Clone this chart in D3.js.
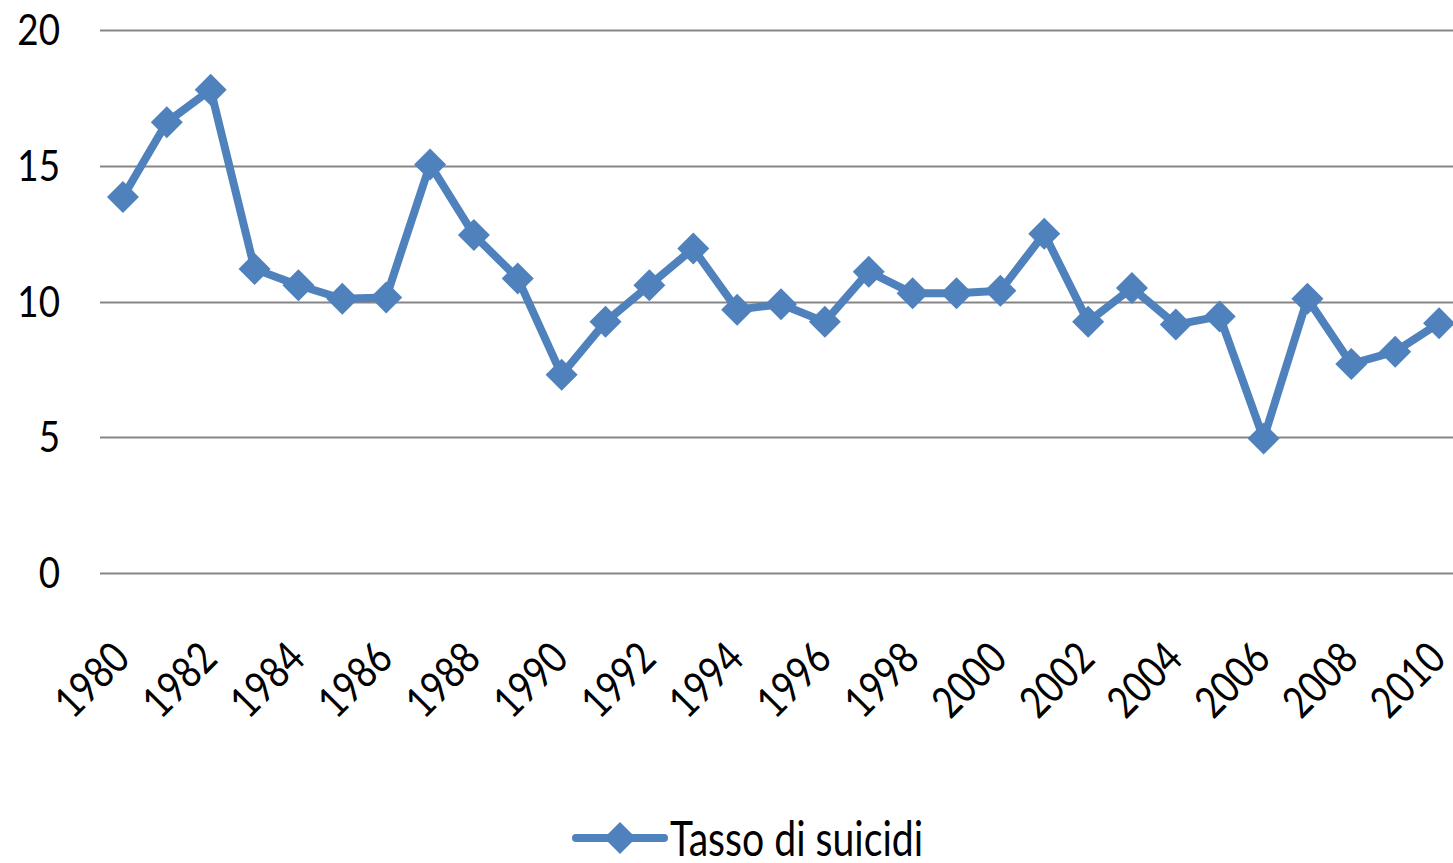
<!DOCTYPE html>
<html><head><meta charset="utf-8">
<script src="https://cdn.jsdelivr.net/npm/d3@7"></script>
<style>
html,body{margin:0;padding:0;background:#fff;overflow:hidden}
text{font-family:Lato,"Open Sans",sans-serif;fill:#000}
</style></head>
<body>
<svg id="chart" width="1453" height="863"></svg>
<script>
const years = [1980,1981,1982,1983,1984,1985,1986,1987,1988,1989,1990,1991,1992,1993,1994,1995,1996,1997,1998,1999,2000,2001,2002,2003,2004,2005,2006,2007,2008,2009,2010];
const values = [13.85,16.6,17.8,11.2,10.6,10.1,10.15,15.05,12.45,10.85,7.3,9.25,10.6,11.95,9.7,9.9,9.25,11.1,10.3,10.3,10.4,12.5,9.25,10.5,9.15,9.45,4.95,10.1,7.7,8.15,9.2];
const yTicks = [0,5,10,15,20];
const xTickLabels = years.filter((d,i)=>i%2===0);
const seriesName = "Tasso di suicidi";

(function(){
const svg = d3.select("#chart");
const pLeft = 101, pRight = 1461, pTop = 30, pBottom = 573;
const x = d3.scalePoint().domain(years).range([pLeft, pRight]).padding(0.5);
const y = d3.scaleLinear().domain([0,20]).range([pBottom, pTop]);
const blue = "#4F81BD";

// gridlines
svg.append("g").selectAll("line").data(yTicks).join("line")
  .attr("x1", 100).attr("x2", 1453)
  .attr("y1", d=>Math.round(y(d))+0.5).attr("y2", d=>Math.round(y(d))+0.5)
  .attr("stroke", "#868686").attr("stroke-width", 2);

// y labels
svg.append("g").selectAll("text").data(yTicks).join("text")
  .attr("text-anchor", "end").attr("font-size", 40)
  .attr("transform", d=>`translate(60,${y(d)+15}) scale(0.92,1.06)`)
  .text(d=>d);

// x labels
svg.append("g").selectAll("text").data(xTickLabels).join("text")
  .attr("text-anchor", "end").attr("font-size", 38)
  .attr("transform", d=>`translate(${x(d)+9},${661}) rotate(-45) scale(0.95,1.15)`)
  .text(d=>d);

// line
const line = d3.line().x((d,i)=>x(years[i])).y(d=>y(d));
svg.append("path").datum(values).attr("d", line)
  .attr("fill", "none").attr("stroke", blue).attr("stroke-width", 8)
  .attr("stroke-linejoin", "round");

const diamond = r => `M0,${-r}L${r},0L0,${r}L${-r},0Z`;
svg.append("g").selectAll("path").data(values).join("path")
  .attr("d", diamond(16))
  .attr("transform", (d,i)=>`translate(${x(years[i])},${y(d)})`)
  .attr("fill", blue);

// legend
const lg = svg.append("g");
lg.append("line").attr("x1", 576).attr("x2", 664).attr("y1", 838).attr("y2", 838)
  .attr("stroke", blue).attr("stroke-width", 8).attr("stroke-linecap", "round");
lg.append("path").attr("d", diamond(16)).attr("transform", "translate(620,838)").attr("fill", blue);
lg.append("text").attr("font-size", 44)
  .attr("transform", "translate(670,856) scale(0.89,1.08)").text(seriesName);
})();
</script>
</body></html>
